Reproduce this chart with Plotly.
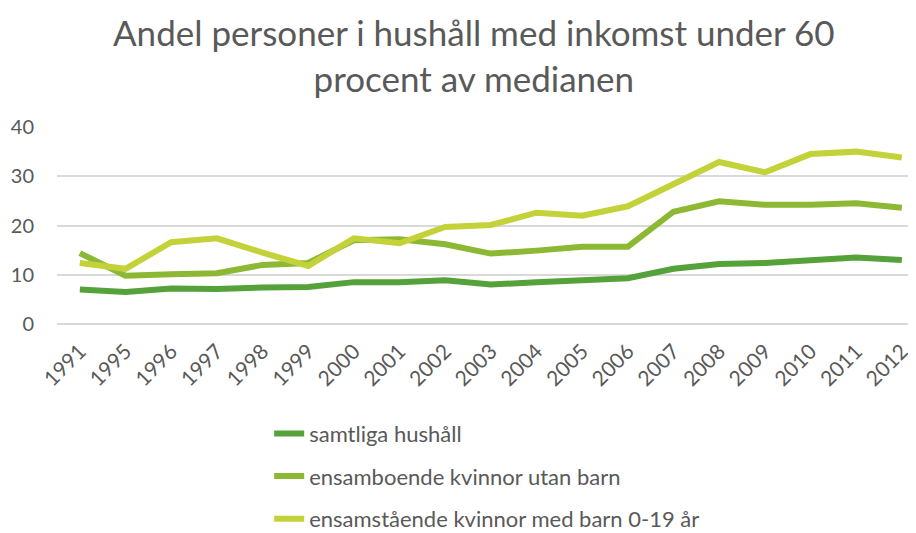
import plotly.graph_objects as go

years = ["1991", "1995", "1996", "1997", "1998", "1999", "2000", "2001", "2002", "2003",
         "2004", "2005", "2006", "2007", "2008", "2009", "2010", "2011", "2012"]
samtliga = [7.0, 6.5, 7.2, 7.1, 7.4, 7.5, 8.5, 8.5, 8.9, 8.0,
            8.5, 9.0, 9.3, 11.2, 12.2, 12.4, 13.0, 13.5, 13.0]
ensamboende = [14.4, 9.8, 10.1, 10.3, 12.0, 12.4, 17.0, 17.2, 16.2, 14.3,
               14.9, 15.7, 15.7, 22.8, 24.9, 24.2, 24.2, 24.5, 23.6]
ensamstaende = [12.4, 11.2, 16.6, 17.4, 14.5, 11.8, 17.4, 16.4, 19.7, 20.1,
                22.6, 22.0, 23.9, 28.5, 32.9, 30.8, 34.5, 35.0, 33.8]
names = ["samtliga hushåll", "ensamboende kvinnor utan barn",
         "ensamstående kvinnor med barn 0-19 år"]
colors = ["#55A13A", "#8CB833", "#C4D23A"]
title_text = "Andel personer i hushåll med inkomst under 60<br>procent av medianen"

FONT = "Lato"
fig = go.Figure()
for i, (vals, nm, c) in enumerate(zip([samtliga, ensamboende, ensamstaende], names, colors)):
    fig.add_trace(go.Scatter(x=years, y=vals, name=nm, mode="lines",
                             line=dict(color=c, width=6), legendgroup=str(i)))

fig.add_annotation(text=title_text, xref="paper", yref="paper", x=0.4855, y=1.6,
                   xanchor="center", yanchor="top", showarrow=False,
                   font=dict(family=FONT, size=35, color="#595959"))

# page body has an 8px default margin, so the figure is 8px smaller and margins shifted
fig.update_layout(
    width=908, height=525,
    paper_bgcolor="white", plot_bgcolor="white",
    margin=dict(l=49, r=0, t=119, b=209, autoexpand=False),
    font=dict(family=FONT, color="#595959", size=18),
    showlegend=True,
    legend=dict(x=0.247, xanchor="left", y=-0.45, yanchor="top",
                tracegroupgap=11, font=dict(family=FONT, size=22, color="#595959"),
                bgcolor="rgba(0,0,0,0)"),
    xaxis=dict(type="category", range=[-0.5, 18.31], showgrid=False, showline=False,
               ticks="", tickangle=-45, tickfont=dict(size=21), zeroline=False,
               ticklabelstandoff=10, automargin=False),
    yaxis=dict(range=[0, 40], dtick=10, showgrid=True, gridcolor="#D9D9D9", gridwidth=1.5,
               zeroline=True, zerolinecolor="#D9D9D9", zerolinewidth=1.5,
               showline=False, ticks="", ticklabelstandoff=22, tickfont=dict(size=20),
               automargin=False),
)
fig.write_html("out.html")
